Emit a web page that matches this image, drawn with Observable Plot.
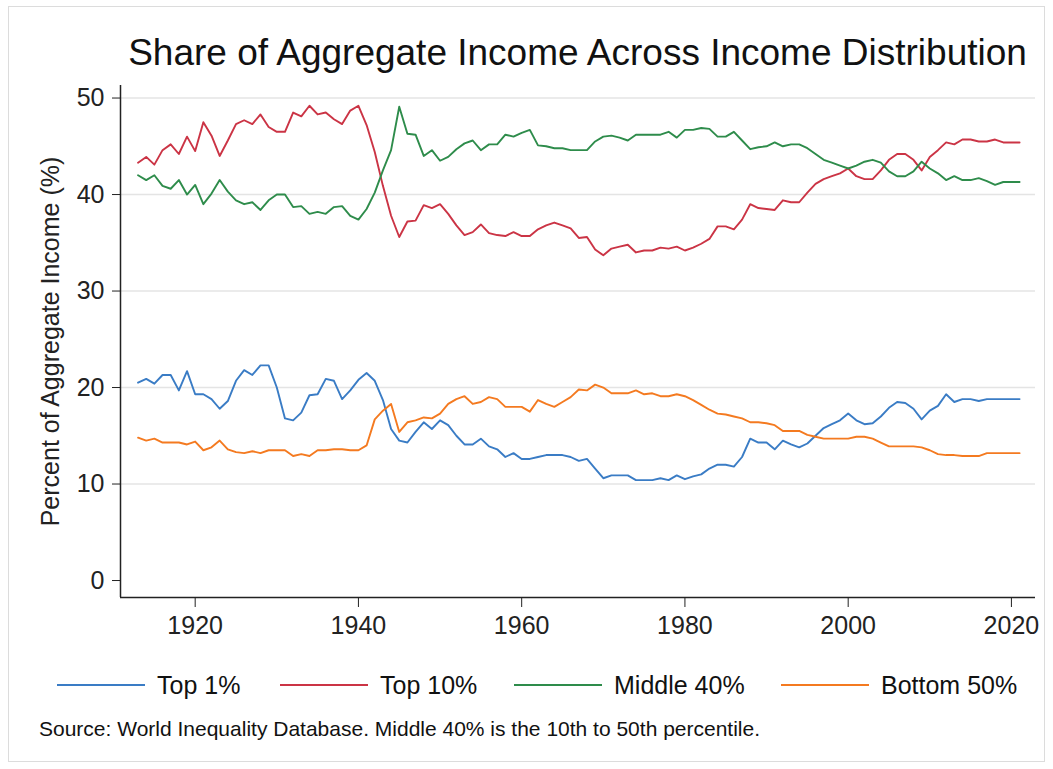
<!DOCTYPE html>
<html><head><meta charset="utf-8">
<script src="https://cdn.jsdelivr.net/npm/d3@7"></script>
<script src="https://cdn.jsdelivr.net/npm/@observablehq/plot@0.6"></script>
<style>
body{margin:0;background:#fff;font-family:"Liberation Sans",Arial,sans-serif;color:#111;}
#page{position:relative;width:1053px;height:769px;overflow:hidden;background:#fff;}
#frame{position:absolute;left:8px;top:6px;width:1037px;height:756px;border:1px solid #dcdcdc;box-sizing:border-box;}
#title{position:absolute;left:120px;width:915px;top:34px;font-size:37px;line-height:37px;text-align:center;white-space:nowrap;}
#chart{position:absolute;left:0;top:75px;}
.leg{position:absolute;top:673px;height:25px;font-size:25px;line-height:25px;white-space:nowrap;}
.leg .sw{position:absolute;left:0;top:11px;width:88px;height:2px;}
.leg .lab{position:absolute;left:100px;top:0;}
#caption{position:absolute;left:39px;top:718px;font-size:21px;line-height:21px;white-space:nowrap;}
</style></head>
<body>
<div id="page">
<div id="frame"></div>
<div id="title">Share of Aggregate Income Across Income Distribution</div>
<div id="chart"></div>
<div id="legend"></div>
<div id="caption">Source: World Inequality Database. Middle 40% is the 10th to 50th percentile.</div>
</div>
<script>
const seriesNames = ["Top 1%", "Top 10%", "Middle 40%", "Bottom 50%"];
const seriesColors = ["#3a7cc5", "#cb3445", "#2e8c4b", "#f47a20"];
const firstYear = 1913;
const xTicks = [1920, 1940, 1960, 1980, 2000, 2020];
const yTicks = [0, 10, 20, 30, 40, 50];
const gridTicks = [10, 20, 30, 40, 50];

const top1 = [
  20.5,20.9,20.4,21.3,21.3,19.7,21.7,              // 1913-1919
  19.3,19.3,18.8,17.8,18.6,20.7,21.8,21.3,22.3,22.3, // 1920s
  20.0,16.8,16.6,17.4,19.2,19.3,20.9,20.7,18.8,19.7, // 1930s
  20.8,21.5,20.7,18.7,15.7,14.5,14.3,15.4,16.4,15.7, // 1940s
  16.6,16.1,15.0,14.1,14.1,14.7,13.9,13.6,12.8,13.2, // 1950s
  12.6,12.6,12.8,13.0,13.0,13.0,12.8,12.4,12.6,11.6, // 1960s
  10.6,10.9,10.9,10.9,10.4,10.4,10.4,10.6,10.4,10.9, // 1970s
  10.5,10.8,11.0,11.6,12.0,12.0,11.8,12.8,14.7,14.3, // 1980s
  14.3,13.6,14.5,14.1,13.8,14.2,15.0,15.8,16.2,16.6, // 1990s
  17.3,16.6,16.2,16.3,17.0,17.9,18.5,18.4,17.8,16.7, // 2000s
  17.6,18.1,19.3,18.5,18.8,18.8,18.6,18.8,18.8,18.8, // 2010s
  18.8,18.8                                          // 2020-2021
];
const top10 = [
  43.3,43.9,43.1,44.6,45.2,44.2,46.0,
  44.5,47.5,46.1,44.0,45.6,47.3,47.7,47.3,48.3,47.0,
  46.5,46.5,48.5,48.1,49.2,48.3,48.5,47.8,47.3,48.7,
  49.2,47.2,44.4,40.9,37.8,35.6,37.2,37.3,38.9,38.6,
  39.0,38.0,36.8,35.8,36.1,36.9,36.0,35.8,35.7,36.1,
  35.7,35.7,36.4,36.8,37.1,36.8,36.5,35.5,35.6,34.3,
  33.7,34.4,34.6,34.8,34.0,34.2,34.2,34.5,34.4,34.6,
  34.2,34.5,34.9,35.4,36.7,36.7,36.4,37.4,39.0,38.6,
  38.5,38.4,39.4,39.2,39.2,40.2,41.1,41.6,41.9,42.2,
  42.7,41.9,41.6,41.6,42.5,43.6,44.2,44.2,43.6,42.5,
  43.9,44.6,45.4,45.2,45.7,45.7,45.5,45.5,45.7,45.4,
  45.4,45.4
];
const middle40 = [
  42.0,41.5,42.0,40.9,40.6,41.5,40.0,
  41.0,39.0,40.1,41.5,40.3,39.4,39.0,39.2,38.4,39.4,
  40.0,40.0,38.7,38.8,38.0,38.2,38.0,38.7,38.8,37.8,
  37.4,38.5,40.2,42.5,44.6,49.1,46.3,46.2,44.0,44.6,
  43.5,43.9,44.7,45.3,45.6,44.6,45.2,45.2,46.2,46.0,
  46.4,46.7,45.1,45.0,44.8,44.8,44.6,44.6,44.6,45.5,
  46.0,46.1,45.9,45.6,46.2,46.2,46.2,46.2,46.5,45.9,
  46.7,46.7,46.9,46.8,46.0,46.0,46.5,45.6,44.7,44.9,
  45.0,45.4,45.0,45.2,45.2,44.8,44.2,43.6,43.3,43.0,
  42.7,43.0,43.4,43.6,43.3,42.4,41.9,41.9,42.4,43.4,
  42.7,42.2,41.5,41.9,41.5,41.5,41.7,41.4,41.0,41.3,
  41.3,41.3
];
const bottom50 = [
  14.8,14.5,14.7,14.3,14.3,14.3,14.1,
  14.4,13.5,13.8,14.5,13.6,13.3,13.2,13.4,13.2,13.5,
  13.5,13.5,12.9,13.1,12.9,13.5,13.5,13.6,13.6,13.5,
  13.5,14.0,16.7,17.6,18.3,15.4,16.4,16.6,16.9,16.8,
  17.3,18.3,18.8,19.1,18.3,18.5,19.0,18.8,18.0,18.0,
  18.0,17.5,18.7,18.3,18.0,18.5,19.0,19.8,19.7,20.3,
  20.0,19.4,19.4,19.4,19.7,19.3,19.4,19.1,19.1,19.3,
  19.1,18.7,18.2,17.7,17.3,17.2,17.0,16.8,16.4,16.4,
  16.3,16.1,15.5,15.5,15.5,15.1,14.9,14.7,14.7,14.7,
  14.7,14.9,14.9,14.7,14.3,13.9,13.9,13.9,13.9,13.8,
  13.5,13.1,13.0,13.0,12.9,12.9,12.9,13.2,13.2,13.2,
  13.2,13.2
];

const seriesValues = [top1, top10, middle40, bottom50];
const data = [];
seriesValues.forEach((vals, i) => {
  vals.forEach((v, j) => data.push({series: seriesNames[i], year: firstYear + j, value: v}));
});

const xDomain = [1910.85, 2022.95];
const yDomain = [-1.76, 51.3];

const chart = Plot.plot({
  width: 1053,
  height: 580,
  marginLeft: 120,
  marginRight: 18,
  marginTop: 10,
  marginBottom: 58,
  style: {fontFamily: "'Liberation Sans', Arial, sans-serif", fontSize: "25px", color: "#222", background: "transparent", overflow: "visible"},
  x: {domain: xDomain},
  y: {domain: yDomain},
  color: {domain: seriesNames, range: seriesColors},
  marks: [
    Plot.gridY(gridTicks, {stroke: "#e4e4e4", strokeOpacity: 1, strokeWidth: 1.6}),
    Plot.line(data, {x: "year", y: "value", z: "series", stroke: "series", strokeWidth: 1.9}),
    Plot.ruleX([xDomain[0]], {stroke: "#222", strokeWidth: 1.5}),
    Plot.ruleY([yDomain[0]], {stroke: "#222", strokeWidth: 1.5}),
    Plot.axisX({ticks: xTicks, tickFormat: d => String(d), tickSize: 10, tickPadding: 9, fontSize: 25, label: null, fill: "#222"}),
    Plot.axisY({ticks: yTicks, tickSize: 8, tickPadding: 8, fontSize: 25, label: null, fill: "#222"}),
    Plot.text(["Percent of Aggregate Income (%)"], {frameAnchor: "left", rotate: -90, dx: -70, textAnchor: "middle", lineAnchor: "middle", fontSize: 25, fill: "#222"})
  ]
});
document.getElementById("chart").appendChild(chart);

const legendLefts = [57, 280, 514, 781];
const legend = document.getElementById("legend");
seriesNames.forEach((name, i) => {
  const item = document.createElement("div");
  item.className = "leg";
  item.style.left = legendLefts[i] + "px";
  const sw = document.createElement("div");
  sw.className = "sw";
  sw.style.background = seriesColors[i];
  const lab = document.createElement("div");
  lab.className = "lab";
  lab.textContent = name;
  item.appendChild(sw);
  item.appendChild(lab);
  legend.appendChild(item);
});
</script>
</body></html>
